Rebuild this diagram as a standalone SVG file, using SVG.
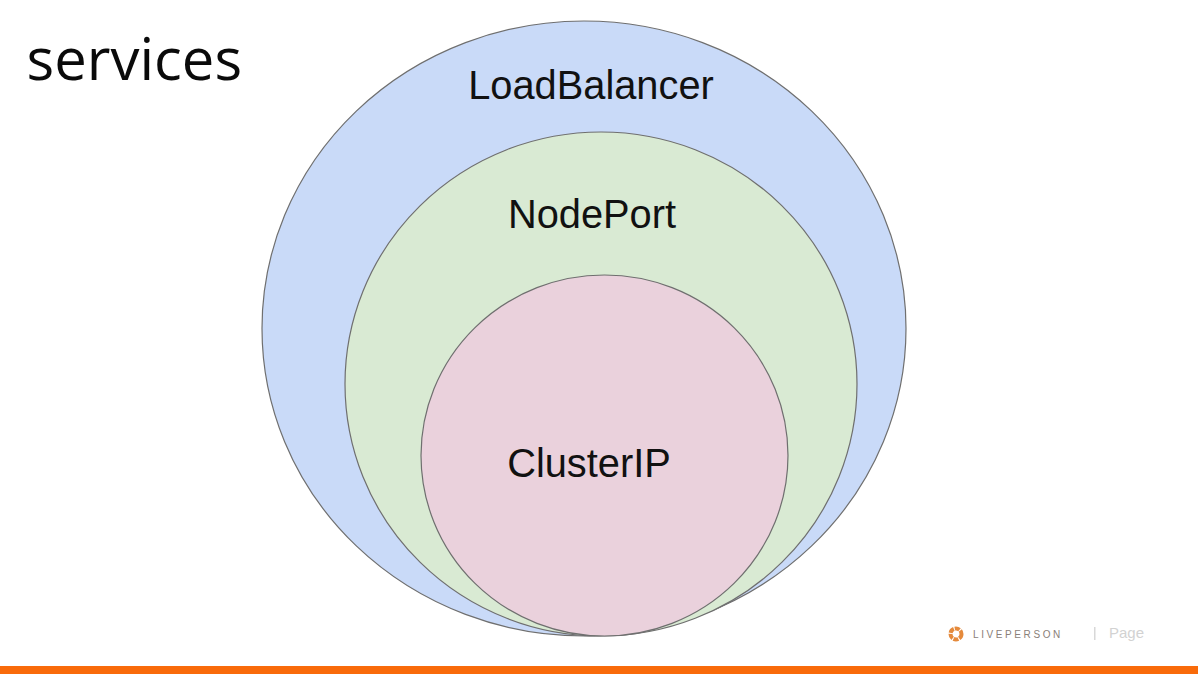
<svg xmlns="http://www.w3.org/2000/svg" width="1198" height="674" viewBox="0 0 1198 674">
<style>
.c{stroke:#6f6f6f;stroke-width:1.200}
.l{font-family:"Liberation Sans",Arial,sans-serif;font-size:39.800px;fill:#111;text-anchor:middle}
</style>
<rect width="1198" height="674" fill="#fff"/>
<rect id="footer-bar" x="0" y="666" width="1198" height="8" fill="#f96b0a"/>
<text id="title" x="26.500" y="79.500" font-family="'Open Sans','Noto Sans',sans-serif" font-size="58" fill="#0a0a0a">services</text>
<g id="loadbalancer"><ellipse class="c" cx="584" cy="328.500" rx="322" ry="307.500" fill="#c9daf8"/><text class="l" x="591" y="99">LoadBalancer</text></g>
<g id="nodeport"><ellipse class="c" cx="601" cy="384" rx="256" ry="252" fill="#d9ead3"/><text class="l" x="592" y="228">NodePort</text></g>
<g id="clusterip"><ellipse class="c" cx="604.500" cy="455.500" rx="183.500" ry="180.500" fill="#ead1dc"/><text class="l" x="589" y="477">ClusterIP</text></g>
<g id="connectors"></g>
<g id="footer">
<g id="logo" fill="none" stroke="#e58a3c"><circle cx="956" cy="634" r="5.500" stroke-width="4" stroke-dasharray="5 1"/></g>
<text x="973" y="638" font-family="'Liberation Sans',Arial,sans-serif" font-size="10" letter-spacing="2.600" fill="#8a8078">LIVEPERSON</text>
<rect x="1094" y="627" width="1.500" height="13" fill="#d8d8d8"/>
<text x="1109" y="638" font-family="'Liberation Sans',Arial,sans-serif" font-size="15" fill="#d2d2d2">Page</text>
</g>
</svg>
